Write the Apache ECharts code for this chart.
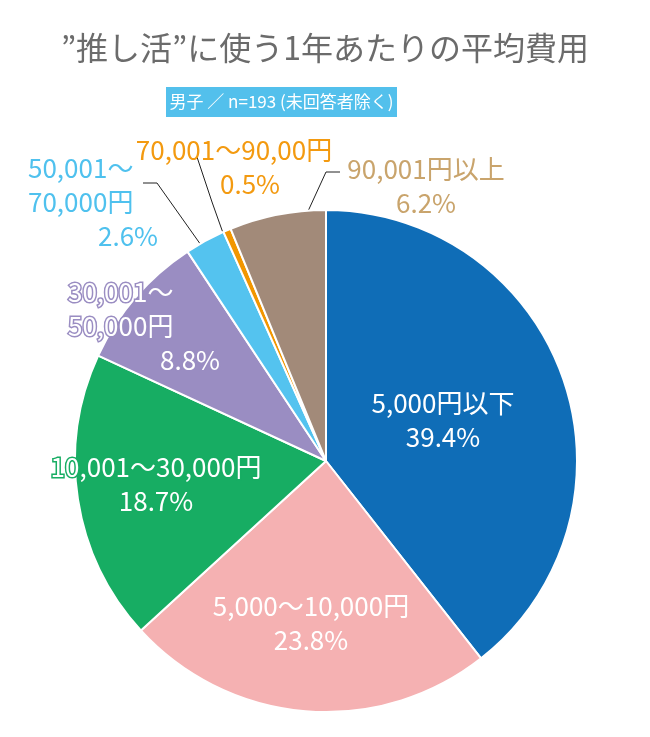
<!DOCTYPE html>
<html><head><meta charset="utf-8">
<script src="https://cdn.jsdelivr.net/npm/echarts@6/dist/echarts.min.js"></script>
<style>html,body{margin:0;padding:0;background:#fff}#c{width:650px;height:737px}</style>
</head><body><div id="c"></div>
<script>
const titleText = '”推し活”に使う1年あたりの平均費用';
const subtitleText = '男子 ／ n=193 (未回答者除く)';
const categories = ['5,000円以下','5,000～10,000円','10,001～30,000円','30,001～\n50,000円','50,001～\n70,000円','70,001～90,00円','90,001円以上'];
const values = [39.4, 23.8, 18.7, 8.8, 2.6, 0.5, 6.2];
const colors = ['#0f6db7','#f5b1b2','#17ad63','#9a8dc2','#54c3ef','#f29600','#a28a79'];
const labelColors = ['#fff','#fff','#fff','#fff','#4fc1ee','#f39a10','#c9a46c'];
const pctPad = [0,0,0,92,70,32,0];
const layouts = [
  {x:443, y:420, align:'center', verticalAlign:'middle'},
  {x:311, y:623, align:'center', verticalAlign:'middle'},
  {x:156, y:484, align:'center', verticalAlign:'middle'},
  {x:68, y:326, align:'left', verticalAlign:'middle'},
  {x:28, y:202, align:'left', verticalAlign:'middle', labelLinePoints:[[213,262],[157,183],[143,183]]},
  {x:234, y:167, align:'center', verticalAlign:'middle', labelLinePoints:[[228,247],[212,202],[197,157]]},
  {x:426, y:186, align:'center', verticalAlign:'middle', labelLinePoints:[[287,257],[326,172],[340,172]]}
];
const lineSlices = [4,5,6];
const outlineColors = {2:'#17ad63', 3:'#9a8dc2'};

const chart = echarts.init(document.getElementById('c'), null, {renderer:'canvas'});
const font = '"Noto Sans CJK JP", "Noto Sans", sans-serif';
const FS = 26;
const data = categories.map((name, i) => {
  const outside = lineSlices.includes(i);
  const lbl = {
    show: true,
    position: outside ? 'outside' : 'inside',
    color: labelColors[i],
    fontSize: FS,
    fontFamily: font,
    lineHeight: 34,
    formatter: function(){ return name + '\n{p|' + values[i].toFixed(1) + '%}'; },
    rich: { p: { fontSize: FS, fontFamily: font, lineHeight: 34, color: labelColors[i], padding: [0,0,0,pctPad[i]] } }
  };
  if (outlineColors[i]) {
    lbl.textBorderColor = outlineColors[i];
    lbl.textBorderWidth = 3;
    lbl.rich.p.textBorderColor = outlineColors[i];
    lbl.rich.p.textBorderWidth = 3;
  }
  return {
    name: name,
    value: values[i],
    itemStyle: { color: colors[i] },
    label: lbl,
    labelLine: { show: outside, lineStyle: { color: '#222', width: 1 } }
  };
});

chart.setOption({
  animation: false,
  backgroundColor: '#fff',
  title: {
    text: titleText, left: 'center', top: 27,
    textStyle: { fontSize: 32, fontWeight: 'normal', color: '#6b6b6b', fontFamily: font }
  },
  graphic: [
    { type: 'rect', shape: { x: 166, y: 87, width: 231, height: 30 }, style: { fill: '#53c0ec' } },
    { type: 'text', x: 281.5, y: 102, style: { text: subtitleText, fill: '#fff', fontSize: 17, fontFamily: font, align: 'center', verticalAlign: 'middle' } }
  ],
  series: [{
    type: 'pie',
    center: [326, 461],
    radius: [0, 251],
    startAngle: 90,
    clockwise: true,
    avoidLabelOverlap: false,
    emphasis: { disabled: true },
    itemStyle: { borderColor: '#fff', borderWidth: 2 },
    labelLayout: function(p){ return layouts[p.dataIndex]; },
    data: data
  }]
});
</script></body></html>
